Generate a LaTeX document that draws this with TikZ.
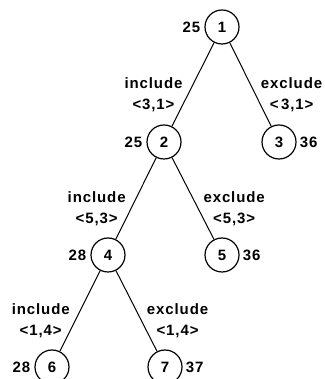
\documentclass[tikz,border=0pt]{standalone}
\usepackage{fontspec}
\setmainfont{Liberation Sans}[LetterSpace=6]
\usetikzlibrary{positioning}
\begin{document}
\begin{tikzpicture}[
  x=1pt, y=1pt,
  font=\bfseries\fontsize{15}{21}\selectfont,
  state/.style={circle, draw, line width=1.2pt, minimum size=34pt, inner sep=0pt},
  cost/.style={inner sep=1pt},
  branch/.style={line width=1pt},
  choice/.style={align=center, inner sep=1pt}
]
\useasboundingbox (0,0) rectangle (324,379);
% search tree
\node[state] (n1) at (222,352) {1};
\node[state] (n2) at (164,237) {2};
\node[state] (n3) at (279,237) {3};
\node[state] (n4) at (108,124) {4};
\node[state] (n5) at (222,124) {5};
\node[state] (n6) at (52,12) {6};
\node[state] (n7) at (165,12) {7};
% bounds
\node[cost, left=3pt of n1] (c1) {25};
\node[cost, left=3pt of n2] (c2) {25};
\node[cost, right=2pt of n3] (c3) {36};
\node[cost, left=3pt of n4] (c4) {28};
\node[cost, right=2pt of n5] (c5) {36};
\node[cost, left=3pt of n6] (c6) {28};
\node[cost, right=2pt of n7] (c7) {37};
% branches
\draw[branch] (n1) -- node[choice, pos=0.62, anchor=east, xshift=-4pt] (l12) {include\\<3,1>} (n2);
\draw[branch] (n1) -- node[choice, pos=0.62, anchor=west, xshift=4pt] (l13) {exclude\\<\,3,1>} (n3);
\draw[branch] (n2) -- node[choice, pos=0.62, anchor=east, xshift=-4pt] (l24) {include\\<5,3>} (n4);
\draw[branch] (n2) -- node[choice, pos=0.62, anchor=west, xshift=4pt] (l25) {exclude\\<5,3>} (n5);
\draw[branch] (n4) -- node[choice, pos=0.62, anchor=east, xshift=-4pt] (l46) {include\\<1,4>} (n6);
\draw[branch] (n4) -- node[choice, pos=0.62, anchor=west, xshift=4pt] (l47) {exclude\\<1,4>} (n7);
\end{tikzpicture}
\end{document}
